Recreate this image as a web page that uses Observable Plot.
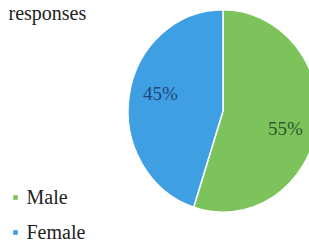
<!DOCTYPE html>
<html>
<head>
<meta charset="utf-8">
<script src="https://cdn.jsdelivr.net/npm/d3@7"></script>
<script src="https://cdn.jsdelivr.net/npm/@observablehq/plot@0.6"></script>
<style>
  html, body { margin: 0; padding: 0; background: #fff; }
  svg text { font-family: 'Liberation Serif', 'Times New Roman', serif !important; }
</style>
</head>
<body>
<div id="chart"></div>
<script>
const title = "responses";
const categories = ["Male", "Female"];
const values = [55, 45];
const labels = ["55%", "45%"];
const colors = ["#7cc35c", "#3f9fe3"];
const labelColors = ["#2e5a2c", "#26457a"];

const data = categories.map((c, i) => ({category: c, value: values[i], label: labels[i], labelColor: labelColors[i]}));

const W = 309, H = 242;
const cx = 223, cy = 111, R = 95, yScale = 1.065;

function pieMark(index, scales, vals, dims, context) {
  const g = d3.create("svg:g");
  const pie = d3.pie().sort(null).value(d => d.value);
  const arcs = pie(data);
  const arc = d3.arc().innerRadius(0).outerRadius(R);
  g.append("g")
    .attr("transform", `translate(${cx},${cy}) scale(1,${yScale})`)
    .selectAll("path").data(arcs).join("path")
      .attr("d", arc)
      .attr("fill", d => scales.color(d.data.category))
      .attr("stroke", "#fff")
      .attr("stroke-width", 1.5)
      .attr("vector-effect", "non-scaling-stroke");
  const lr = R * 0.68, off = 0.1;
  g.selectAll("text").data(arcs).join("text")
    .attr("x", d => { const a = (d.startAngle + d.endAngle) / 2 + off; return cx + Math.sin(a) * lr; })
    .attr("y", d => { const a = (d.startAngle + d.endAngle) / 2 + off; return cy - Math.cos(a) * lr * yScale; })
    .attr("text-anchor", "middle")
    .attr("dy", "0.35em")
    .attr("font-size", 19)
    .attr("fill", d => d.data.labelColor)
    .text(d => d.data.label);
  return g.node();
}

const legendData = categories.map((c, i) => ({category: c, row: i}));

const chart = Plot.plot({
  width: W,
  height: H,
  margin: 0,
  x: {domain: [0, W], range: [0, W], axis: null},
  y: {domain: [0, H], range: [0, H], axis: null},
  color: {domain: categories, range: colors},
  style: {fontFamily: "'Liberation Serif', serif", background: "#fff"},
  marks: [
    pieMark,
    Plot.text([title], {x: 8, y: 13, text: d => d, textAnchor: "start", fontSize: 20, fill: "#222", fontFamily: "Liberation Serif"}),
    Plot.dot(legendData, {x: 15, y: d => 197 + d.row * 35, fill: "category", symbol: "square", r: 2.6}),
    Plot.text(legendData, {x: 26, y: d => 197 + d.row * 35, text: "category", textAnchor: "start", fontSize: 20, fill: "#222", fontFamily: "Liberation Serif"})
  ]
});
document.getElementById("chart").appendChild(chart);
</script>
</body>
</html>
